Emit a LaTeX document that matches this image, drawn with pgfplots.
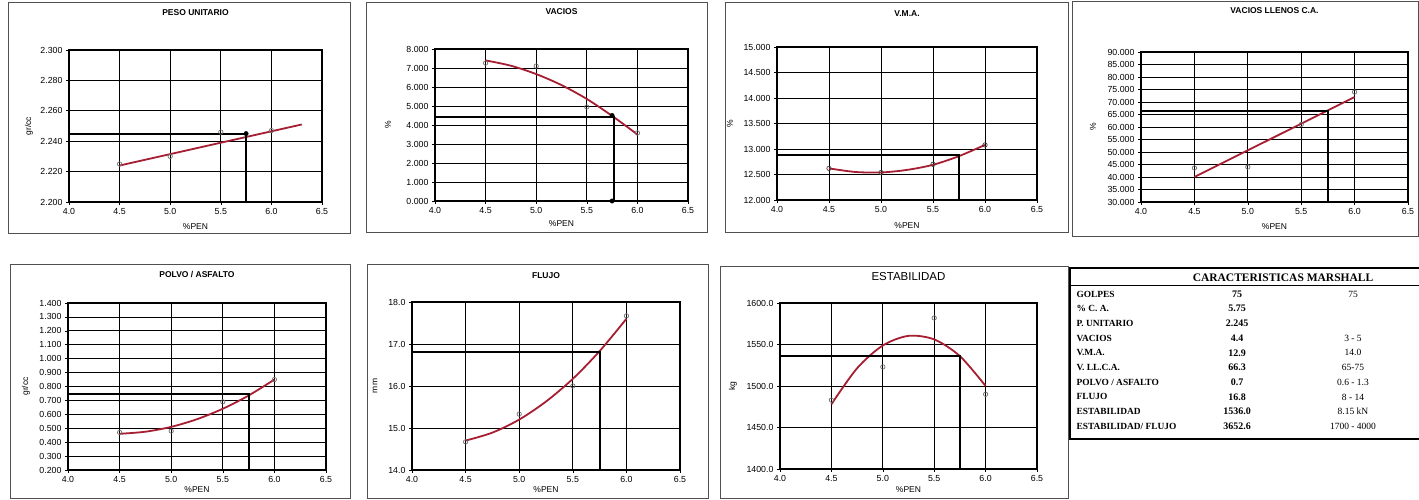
\documentclass[border=0pt]{standalone}
\usepackage{pgfplots}
\pgfplotsset{compat=1.18}
\usepackage{fontspec}
\setmainfont{Liberation Sans}
\newfontfamily\serif{Liberation Serif}
\definecolor{curve}{RGB}{165,30,50}
\definecolor{frame}{RGB}{80,80,80}
\definecolor{pts}{RGB}{110,110,110}
\pgfplotsset{
  panel/.style={
    scale only axis,
    anchor=south west,
    xmin=4, xmax=6.5,
    xtick={4,4.5,5,5.5,6,6.5},
    grid=major,
    major grid style={black, line width=0.75pt},
    axis line style={black, line width=1.1pt},
    tick style={black, line width=0.6pt},
    tick align=outside,
    major tick length=3pt,
    xtick pos=bottom, ytick pos=left,
    tick label style={font=\fontsize{8.8}{9}\selectfont},
    label style={font=\fontsize{8.5}{9}\selectfont},
    /pgf/number format/assume math mode=true,
    xticklabel style={/pgf/number format/.cd, fixed, fixed zerofill, precision=1},
    yticklabel style={/pgf/number format/.cd, fixed, fixed zerofill, precision=3, 1000 sep={}},
    xlabel={\%PEN},
    title style={font=\fontsize{8.5}{9}\selectfont\bfseries, anchor=center},
  },
  datapts/.style={only marks, mark=o, mark size=2.2pt, draw=pts, mark options={line width=0.7pt, fill=white}},
  trend/.style={curve, line width=1.8pt, no marks},
  guide/.style={black, line width=2pt, no marks},
  gdot/.style={only marks, mark=*, mark size=2.2pt, black},
}
\newcommand\trow[4]{%
  \node[anchor=west, font=\serif\bfseries\fontsize{9.4}{10}\selectfont] at (1073pt,#1 pt) {#2};
  \node[font=\serif\bfseries\fontsize{10}{11}\selectfont] at (1237pt,#1 pt) {#3};
  \node[font=\serif\fontsize{9.5}{10}\selectfont] at (1353pt,#1 pt) {#4};
}
\begin{document}
\begin{tikzpicture}
\path[use as bounding box] (0pt,0pt) rectangle (1419pt,500pt);
% panel frames
\draw[frame, line width=1pt] (8pt,266pt) rectangle (350pt,497pt);
\draw[frame, line width=1pt] (366pt,267pt) rectangle (707pt,497pt);
\draw[frame, line width=1pt] (725pt,267pt) rectangle (1068pt,497pt);
\draw[frame, line width=1pt] (1072pt,263pt) rectangle (1418pt,498pt);
\draw[frame, line width=1pt] (10pt,1pt) rectangle (350pt,235pt);
\draw[frame, line width=1pt] (367pt,1pt) rectangle (708pt,235pt);
\draw[frame, line width=1pt] (720pt,1pt) rectangle (1068pt,233pt);

% 1 PESO UNITARIO
\begin{axis}[panel, at={(69pt,298pt)}, width=253pt, height=152pt,
  ymin=2.2, ymax=2.3, ytick={2.2,2.22,2.24,2.26,2.28,2.3},
  title={PESO UNITARIO}, title style={at={(axis description cs:0.5,1)}, yshift=31pt},
  xlabel style={at={(axis description cs:0.5,0)}, anchor=center, yshift=-25pt},
  ylabel={gr/cc}, ylabel style={at={(axis description cs:-0.158,0.5)}, anchor=center}]
\addplot[datapts] coordinates {(4.5,2.225) (5.0,2.230) (5.5,2.246) (6.0,2.247)};
\addplot[trend] coordinates {(4.5,2.224) (6.3,2.251)};
\addplot[guide] coordinates {(4.0,2.245) (5.75,2.245) (5.75,2.2)};
\addplot[gdot] coordinates {(5.75,2.245)};
\end{axis}

% 2 VACIOS
\begin{axis}[panel, at={(435pt,299pt)}, width=253pt, height=152pt,
  ymin=0, ymax=8, ytick={0,1,2,3,4,5,6,7,8},
  title={VACIOS}, title style={at={(axis description cs:0.5,1)}, yshift=31pt},
  xlabel style={at={(axis description cs:0.5,0)}, anchor=center, yshift=-23pt},
  ylabel={\%}, ylabel style={at={(axis description cs:-0.186,0.5)}, anchor=center}]
\addplot[datapts] coordinates {(4.5,7.26) (5.0,7.1) (5.5,4.95) (6.0,3.58)};
\addplot[trend, smooth] coordinates {(4.5,7.40) (4.75,7.12) (5.0,6.68) (5.25,6.10) (5.5,5.37) (5.75,4.48) (6.0,3.50)};
\addplot[guide] coordinates {(4.0,4.42) (5.77,4.42) (5.77,0)};
\addplot[gdot] coordinates {(5.75,4.5) (5.75,0)};
\end{axis}

% 3 V.M.A.
\begin{axis}[panel, at={(777pt,300pt)}, width=260pt, height=153pt,
  ymin=12, ymax=15, ytick={12,12.5,13,13.5,14,14.5,15},
  title={V.M.A.}, title style={at={(axis description cs:0.5,1)}, yshift=27pt},
  xlabel style={at={(axis description cs:0.5,0)}, anchor=center, yshift=-26pt},
  ylabel={\%}, ylabel style={at={(axis description cs:-0.181,0.5)}, anchor=center}]
\addplot[datapts, draw=black!75] coordinates {(4.5,12.62) (5.0,12.54) (5.5,12.70) (6.0,13.08)};
\addplot[trend, smooth] coordinates {(4.5,12.62) (4.75,12.55) (5.0,12.54) (5.25,12.59) (5.5,12.69) (5.75,12.86) (6.0,13.08)};
\addplot[guide] coordinates {(4.0,12.88) (5.75,12.88) (5.75,12)};
\end{axis}

% 4 VACIOS LLENOS C.A.
\begin{axis}[panel, at={(1141pt,298pt)}, width=267pt, height=150pt,
  ymin=30, ymax=90, ytick={30,35,40,45,50,55,60,65,70,75,80,85,90},
  title={VACIOS LLENOS C.A.}, title style={at={(axis description cs:0.5,1)}, yshift=35pt},
  xlabel style={at={(axis description cs:0.5,0)}, anchor=center, yshift=-25pt},
  ylabel={\%}, ylabel style={at={(axis description cs:-0.180,0.5)}, anchor=center}]
\addplot[datapts] coordinates {(4.5,43.6) (5.0,44.0) (5.5,61.0) (6.0,74.0)};
\addplot[trend] coordinates {(4.5,40) (6.0,72)};
\addplot[guide] coordinates {(4.0,66.3) (5.75,66.3) (5.75,30)};
\end{axis}

% 5 POLVO / ASFALTO
\begin{axis}[panel, at={(68pt,30pt)}, width=258pt, height=167pt,
  ymin=0.2, ymax=1.4, ytick={0.2,0.3,0.4,0.5,0.6,0.7,0.8,0.9,1.0,1.1,1.2,1.3,1.4},
  title={POLVO / ASFALTO}, title style={at={(axis description cs:0.5,1)}, yshift=22pt},
  xlabel style={at={(axis description cs:0.5,0)}, anchor=center, yshift=-20pt},
  ylabel={gr/cc}, ylabel style={at={(axis description cs:-0.163,0.5)}, anchor=center}]
\addplot[datapts] coordinates {(4.5,0.47) (5.0,0.48) (5.5,0.69) (6.0,0.85)};
\addplot[trend, smooth] coordinates {(4.5,0.46) (4.75,0.475) (5.0,0.51) (5.25,0.565) (5.5,0.64) (5.75,0.735) (6.0,0.85)};
\addplot[guide] coordinates {(4.0,0.745) (5.75,0.745) (5.75,0.2)};
\end{axis}

% 6 FLUJO
\begin{axis}[panel, at={(412pt,30pt)}, width=268pt, height=168pt,
  ymin=14, ymax=18, ytick={14,15,16,17,18},
  yticklabel style={/pgf/number format/.cd, fixed, fixed zerofill, precision=1},
  title={FLUJO}, title style={at={(axis description cs:0.5,1)}, yshift=20pt},
  xlabel style={at={(axis description cs:0.5,0)}, anchor=center, yshift=-20pt},
  ylabel={mm}, ylabel style={at={(axis description cs:-0.138,0.5)}, anchor=center}]
\addplot[datapts] coordinates {(4.5,14.67) (5.0,15.33) (5.5,16.0) (6.0,17.67)};
\addplot[trend, smooth] coordinates {(4.5,14.70) (4.75,14.89) (5.0,15.20) (5.25,15.63) (5.5,16.17) (5.75,16.83) (6.0,17.60)};
\addplot[guide] coordinates {(4.0,16.8) (5.75,16.8) (5.75,14)};
\end{axis}

% 7 ESTABILIDAD
\begin{axis}[panel, at={(780pt,31pt)}, width=257pt, height=166pt,
  ymin=1400, ymax=1600, ytick={1400,1450,1500,1550,1600},
  yticklabel style={/pgf/number format/.cd, fixed, fixed zerofill, precision=1, 1000 sep={}},
  title={ESTABILIDAD}, title style={at={(axis description cs:0.5,1)}, yshift=20pt, font=\fontsize{11.5}{12}\selectfont},
  xlabel style={at={(axis description cs:0.5,0)}, anchor=center, yshift=-21pt},
  ylabel={kg}, ylabel style={at={(axis description cs:-0.183,0.5)}, anchor=center}]
\addplot[datapts] coordinates {(4.5,1483) (5.0,1523) (5.5,1582) (6.0,1490)};
\addplot[trend, smooth] coordinates {(4.5,1478) (4.75,1521.4) (5.0,1548.8) (5.25,1560.4) (5.5,1556.1) (5.75,1536) (6.0,1500)};
\addplot[guide] coordinates {(4.0,1536) (5.75,1536) (5.75,1400)};
\end{axis}

% table CARACTERISTICAS MARSHALL
\draw[black, line width=1.6pt] (1070pt,61pt) rectangle (1425pt,232pt);
\draw[black, line width=1pt] (1070pt,214pt) -- (1425pt,214pt);
\node[font=\serif\bfseries\fontsize{11.5}{12}\selectfont] at (1283pt,222pt) {CARACTERISTICAS MARSHALL};
\trow{206}{GOLPES}{75}{75}
\trow{191.3}{\% C. A.}{5.75}{}
\trow{176.6}{P. UNITARIO}{2.245}{}
\trow{161.9}{VACIOS}{4.4}{3 - 5}
\trow{147.2}{V.M.A.}{12.9}{14.0}
\trow{132.5}{V. LL.C.A.}{66.3}{65-75}
\trow{117.8}{POLVO / ASFALTO}{0.7}{0.6 - 1.3}
\trow{103.1}{FLUJO}{16.8}{8 - 14}
\trow{88.4}{ESTABILIDAD}{1536.0}{8.15 kN}
\trow{73.7}{ESTABILIDAD/ FLUJO}{3652.6}{1700 - 4000}
\end{tikzpicture}
\end{document}
